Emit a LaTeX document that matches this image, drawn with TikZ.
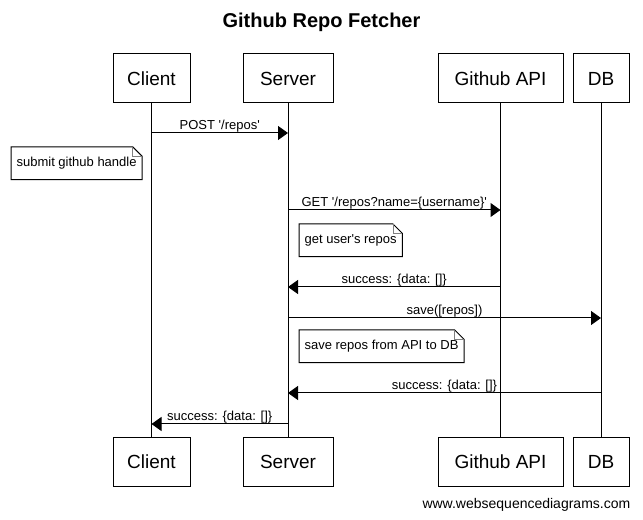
\documentclass[tikz,border=0pt]{standalone}
\usepackage{fontspec}
\setmainfont{Liberation Sans}
\usetikzlibrary{arrows.meta}

\newcommand{\sq}{\textquotesingle}
\newcommand{\noteshape}[1]{
    \draw[line width=0.75pt] (#1.south west) -- (#1.north west) -- ([xshift=-7pt]#1.north east) -- ([yshift=-7pt]#1.north east) -- (#1.south east) -- cycle;
    \draw[gray,line width=0.6pt] ([xshift=-7pt]#1.north east) |- ([yshift=-7pt]#1.north east);
}

\begin{document}
\begin{tikzpicture}[x=0.75pt, y=-0.75pt]
        \tikzstyle{actor}=[draw,line width=0.75pt,minimum height=36.75pt,inner sep=2pt,font=\fontsize{14.25}{16}\selectfont]
        \tikzstyle{note}=[anchor=north west,inner xsep=4pt,minimum height=24pt,font=\fontsize{9.75}{11}\selectfont]
        \tikzstyle{msg}=[line width=0.75pt,-{Triangle[length=7.5pt,width=10.5pt]}]
        \tikzstyle{lbl}=[inner sep=0.5pt,font=\fontsize{9.75}{11}\selectfont]

        \useasboundingbox (0,0) rectangle (643,520);
        \node[font=\bfseries\fontsize{15}{18}\selectfont] (title) at (321.5,22) {Github Repo Fetcher};

        \node[actor,minimum width=57.75pt] (C_top) at (151.5,78.5) {Client};
        \node[actor,minimum width=67.5pt] (S_top) at (288,78.5) {Server};
        \node[actor,minimum width=93.75pt] (G_top) at (500.5,78.5) {Github API};
        \node[actor,minimum width=42pt] (D_top) at (601,78.5) {DB};

        \node[actor,minimum width=57.75pt] (C_bot) at (151.5,461.5) {Client};
        \node[actor,minimum width=67.5pt] (S_bot) at (288,461.5) {Server};
        \node[actor,minimum width=93.75pt] (G_bot) at (500.5,461.5) {Github API};
        \node[actor,minimum width=42pt] (D_bot) at (601,461.5) {DB};

        \draw[line width=0.75pt] (C_top) -- (C_bot);
        \draw[line width=0.75pt] (S_top) -- (S_bot);
        \draw[line width=0.75pt] (G_top) -- (G_bot);
        \draw[line width=0.75pt] (D_top) -- (D_bot);

        \draw[msg] (C_top |- 0,133) -- (S_top |- 0,133) node[lbl,midway,above] {POST \sq/repos\sq};
        \node[note] (N_1) at (11,147) {submit github handle};
        \noteshape{N_1}

        \draw[msg] (S_top |- 0,210) -- (G_top |- 0,210) node[lbl,midway,above] {GET \sq/repos?name=\{username\}\sq};
        \node[note] (N_2) at (299,224) {get user\sq s repos};
        \noteshape{N_2}

        \draw[msg] (G_top |- 0,287) -- (S_top |- 0,287) node[lbl,midway,above] {success: \{data: []\}};
        \draw[msg] (S_top |- 0,318) -- (D_top |- 0,318) node[lbl,midway,above] {save([repos])};
        \node[note] (N_3) at (299,330) {save repos from API to DB};
        \noteshape{N_3}

        \draw[msg] (D_top |- 0,393) -- (S_top |- 0,393) node[lbl,midway,above] {success: \{data: []\}};
        \draw[msg] (S_top |- 0,424) -- (C_top |- 0,424) node[lbl,midway,above] {success: \{data: []\}};

        \node[anchor=east,font=\fontsize{10.5}{12}\selectfont] (site) at (635,505) {www.websequencediagrams.com};
\end{tikzpicture}
\end{document}
